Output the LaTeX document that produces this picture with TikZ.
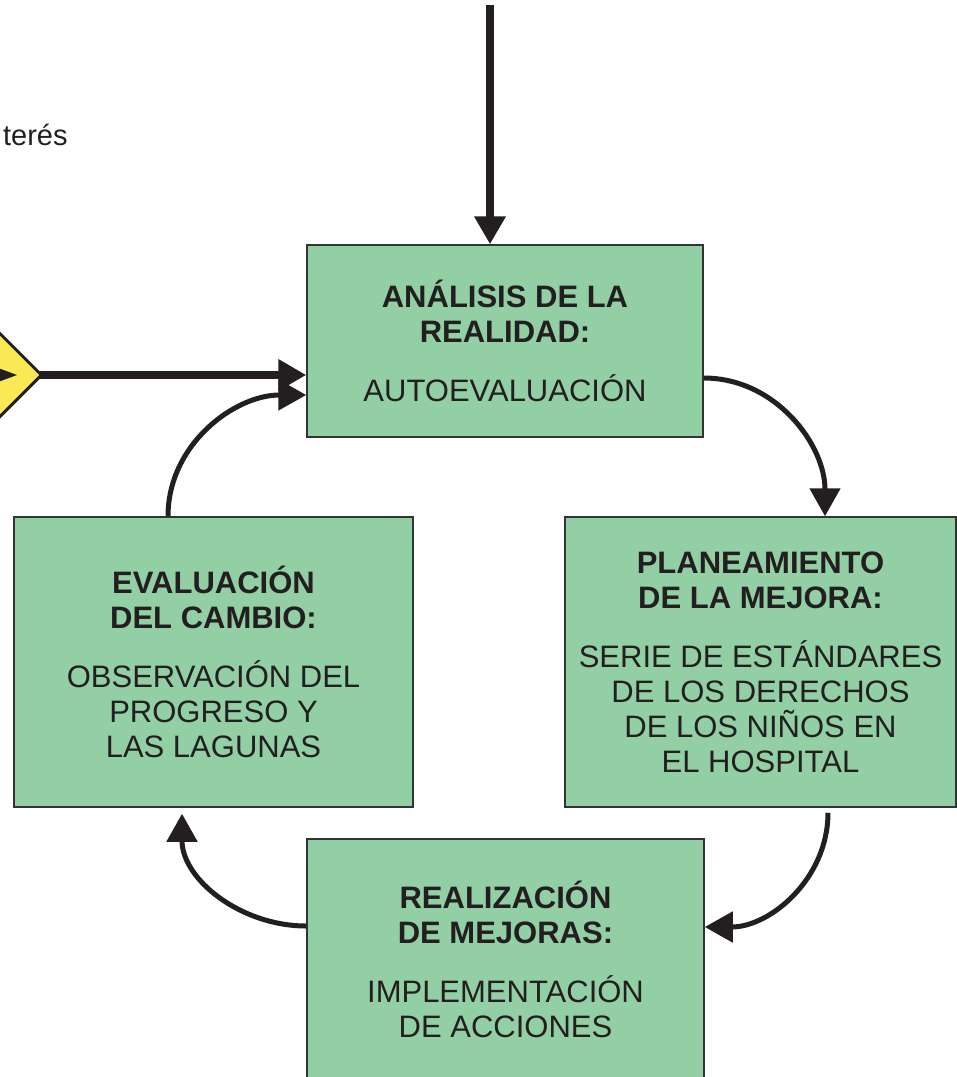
\documentclass[tikz,border=0pt]{standalone}
\usepackage{fontspec}
\setmainfont{Liberation Sans}
\usetikzlibrary{arrows.meta,shapes.geometric,calc}

\definecolor{boxgreen}{RGB}{146,207,164}
\definecolor{signyellow}{RGB}{250,232,85}
\definecolor{inkblack}{RGB}{35,31,32}
\def\boxfont{\fontsize{15.5}{17.5}\selectfont}

\begin{document}
\begin{tikzpicture}[x=0.5pt,y=0.5pt,>={Triangle[length=14pt,width=15pt]}]
    \tikzstyle{stage}=[rectangle,draw=black!80,line width=0.75pt,fill=boxgreen,text=inkblack,align=center,inner sep=2pt,font=\boxfont]
    \tikzstyle{main arrow}=[->,line width=4pt,draw=inkblack]
    \tikzstyle{loop arrow}=[->,line width=2.5pt,draw=inkblack]

    \useasboundingbox (0,0) rectangle (957,-1077);
    \clip (0,0) rectangle (957,-1077);

    % Draw the four stages of the cycle
    \node[stage,minimum width=198pt,minimum height=96pt] (analisis) at (505,-341)
        {\textbf{ANÁLISIS DE LA}\\\textbf{REALIDAD:}\\[12pt]AUTOEVALUACIÓN};
    \node[stage,minimum width=195.5pt,minimum height=145pt] (planeamiento) at (760.5,-662)
        {\textbf{PLANEAMIENTO}\\\textbf{DE LA MEJORA:}\\[12pt]SERIE DE ESTÁNDARES\\DE LOS DERECHOS\\DE LOS NIÑOS EN\\EL HOSPITAL};
    \node[stage,minimum width=198.5pt,minimum height=120pt] (realizacion) at (505.5,-959)
        {\textbf{REALIZACIÓN}\\\textbf{DE MEJORAS:}\\[12pt]IMPLEMENTACIÓN\\DE ACCIONES};
    \node[stage,minimum width=199.5pt,minimum height=145pt] (evaluacion) at (213.5,-662)
        {\textbf{EVALUACIÓN}\\\textbf{DEL CAMBIO:}\\[12pt]OBSERVACIÓN DEL\\PROGRESO Y\\LAS LAGUNAS};

    % Draw the decision sign and the text at the left edge
    \node[diamond,draw=inkblack,line width=1.5pt,fill=signyellow,minimum width=67pt,minimum height=67pt,inner sep=0pt] (cruce) at (-25,-375) {};
    \fill[inkblack] (-2,-368) -- (17,-375) -- (-2,-382) -- cycle;
    \node[anchor=base west,text=inkblack,font=\fontsize{14.5}{17}\selectfont] (interes) at (-4,-145) {terés};

    % Arrows into the first stage
    \coordinate (entrada) at (490,-5);
    \draw[main arrow] (entrada) -- (entrada |- analisis.north);
    \draw[main arrow,shorten <=-2pt] (cruce.east) -- (cruce.east -| analisis.west);

    % Connect the stages round the cycle
    \draw[loop arrow] ($(analisis.east)+(0,-37)$) to[out=0,in=90] ($(planeamiento.north)+(64.5,0)$);
    \draw[loop arrow] ($(planeamiento.south)+(67.5,-5)$) to[out=-90,in=0] ($(realizacion.east)+(0,32)$);
    \draw[loop arrow] ($(realizacion.west)+(0,33)$) to[out=180,in=-90] ($(evaluacion.south)+(-31.5,-6)$);
    \draw[loop arrow] ($(evaluacion.north)+(-45.5,0)$) to[out=90,in=180] ($(analisis.west)+(0,-54)$);
\end{tikzpicture}
\end{document}
